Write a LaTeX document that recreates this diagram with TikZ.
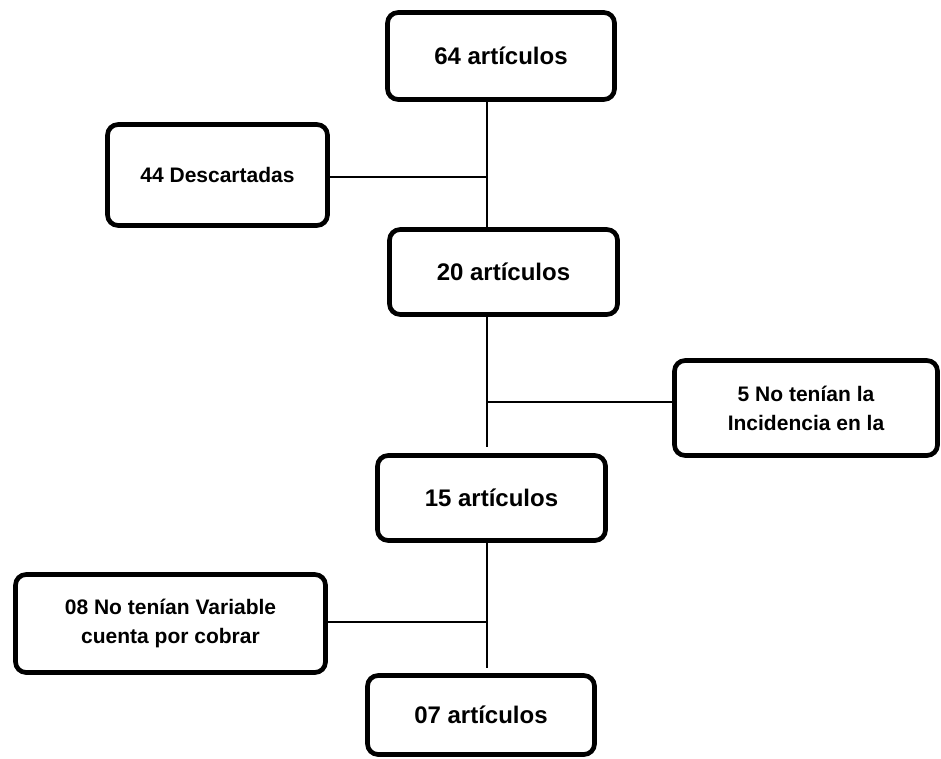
\documentclass[tikz,border=0pt]{standalone}
\usepackage{fontspec}
\setmainfont{Liberation Sans}
\begin{document}
\begin{tikzpicture}[x=0.75pt,y=-0.75pt,
  box/.style={draw, line width=3.5pt, rounded corners=8pt, inner sep=0pt, align=center, fill=white},
  bigtxt/.style={font=\fontsize{18}{22}\selectfont\bfseries},
  smalltxt/.style={font=\fontsize{15.75}{21.75}\selectfont\bfseries},
  link/.style={line width=1.5pt}]
\useasboundingbox (0,0) rectangle (941,759);
\node[box,bigtxt,minimum width=227*0.75pt,minimum height=87*0.75pt] (b1) at (501,56) {64 artículos};
\node[box,smalltxt,minimum width=220*0.75pt,minimum height=101*0.75pt] (b2) at (217.5,175) {44 Descartadas};
\node[box,bigtxt,minimum width=228*0.75pt,minimum height=85*0.75pt] (b3) at (503.5,272) {20 artículos};
\node[box,smalltxt,minimum width=263*0.75pt,minimum height=95*0.75pt] (b4) at (806,408) {5 No tenían la\\Incidencia en la};
\node[box,bigtxt,minimum width=228*0.75pt,minimum height=85*0.75pt] (b5) at (491.5,498) {15 artículos};
\node[box,smalltxt,minimum width=310*0.75pt,minimum height=98*0.75pt] (b6) at (170.5,623.5) {08 No tenían Variable\\cuenta por cobrar};
\node[box,bigtxt,minimum width=227*0.75pt,minimum height=79*0.75pt] (b7) at (481,715) {07 artículos};
\coordinate (j1) at (487,177);
\coordinate (j2) at (487,402);
\coordinate (j3) at (487,622);
\coordinate (e2) at (487,447);
\coordinate (e3) at (487,668);
\draw[link] (b1.south -| j1) -- (b3.north -| j1);
\draw[link] (b2.east |- j1) -- (j1);
\draw[link] (b3.south -| j2) -- (e2);
\draw[link] (j2) -- (b4.west |- j2);
\draw[link] (b5.south -| j3) -- (e3);
\draw[link] (b6.east |- j3) -- (j3);
\end{tikzpicture}
\end{document}
